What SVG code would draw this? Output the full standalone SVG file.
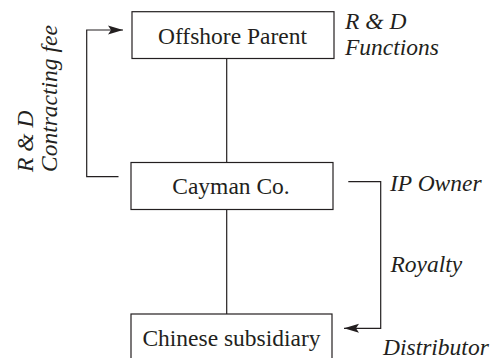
<svg xmlns="http://www.w3.org/2000/svg" width="496" height="358" viewBox="0 0 496 358">
<style>
text{font-family:'Liberation Serif','Times New Roman','DejaVu Serif',serif;font-size:23.5px;fill:#231f20}
.it{font-style:italic}
.box{fill:#fff;stroke:#231f20;stroke-width:1.2}
.ln{fill:none;stroke:#231f20;stroke-width:1.2}
</style>
<defs>
<marker id="ah" markerWidth="16" markerHeight="10" refX="15" refY="5" orient="auto" markerUnits="userSpaceOnUse">
<path d="M0,0.5 L15,5 L0,9.5 L3,5 Z" fill="#231f20"/>
</marker>
</defs>
<rect width="496" height="358" fill="#fff"/>
<g id="connectors">
<line class="ln" x1="226.7" y1="58.5" x2="226.7" y2="162.5"/>
<line class="ln" x1="226.7" y1="209.5" x2="226.7" y2="314"/>
<path class="ln" d="M118.5,176.7 H86.7 V30 H123" marker-end="url(#ah)"/>
<path class="ln" d="M348.3,181.7 H380.7 V328.3 H344" marker-end="url(#ah)"/>
</g>
<g id="offshore">
<rect class="box" x="132" y="11.7" width="202" height="46.8"/>
<text font-family="Liberation Serif, serif" x="232.5" y="44.3" text-anchor="middle">Offshore Parent</text>
</g>
<g id="cayman">
<rect class="box" x="131" y="162.5" width="202" height="47"/>
<text font-family="Liberation Serif, serif" x="231" y="194.3" text-anchor="middle">Cayman Co.</text>
</g>
<g id="chinese">
<rect class="box" x="131" y="314" width="201" height="50"/>
<text font-family="Liberation Serif, serif" x="231.5" y="345.7" text-anchor="middle">Chinese subsidiary</text>
</g>
<g id="labels">
<text class="it" x="345" y="29">R &amp; D</text>
<text class="it" x="345" y="55">Functions</text>
<text class="it" x="390" y="190.7">IP Owner</text>
<text class="it" x="390.5" y="271.7">Royalty</text>
<text class="it" x="383" y="354.5">Distributor</text>
<text class="it" transform="translate(33,172) rotate(-90)">R &amp; D</text>
<text class="it" transform="translate(57,172) rotate(-90)">Contracting fee</text>
</g>
</svg>
